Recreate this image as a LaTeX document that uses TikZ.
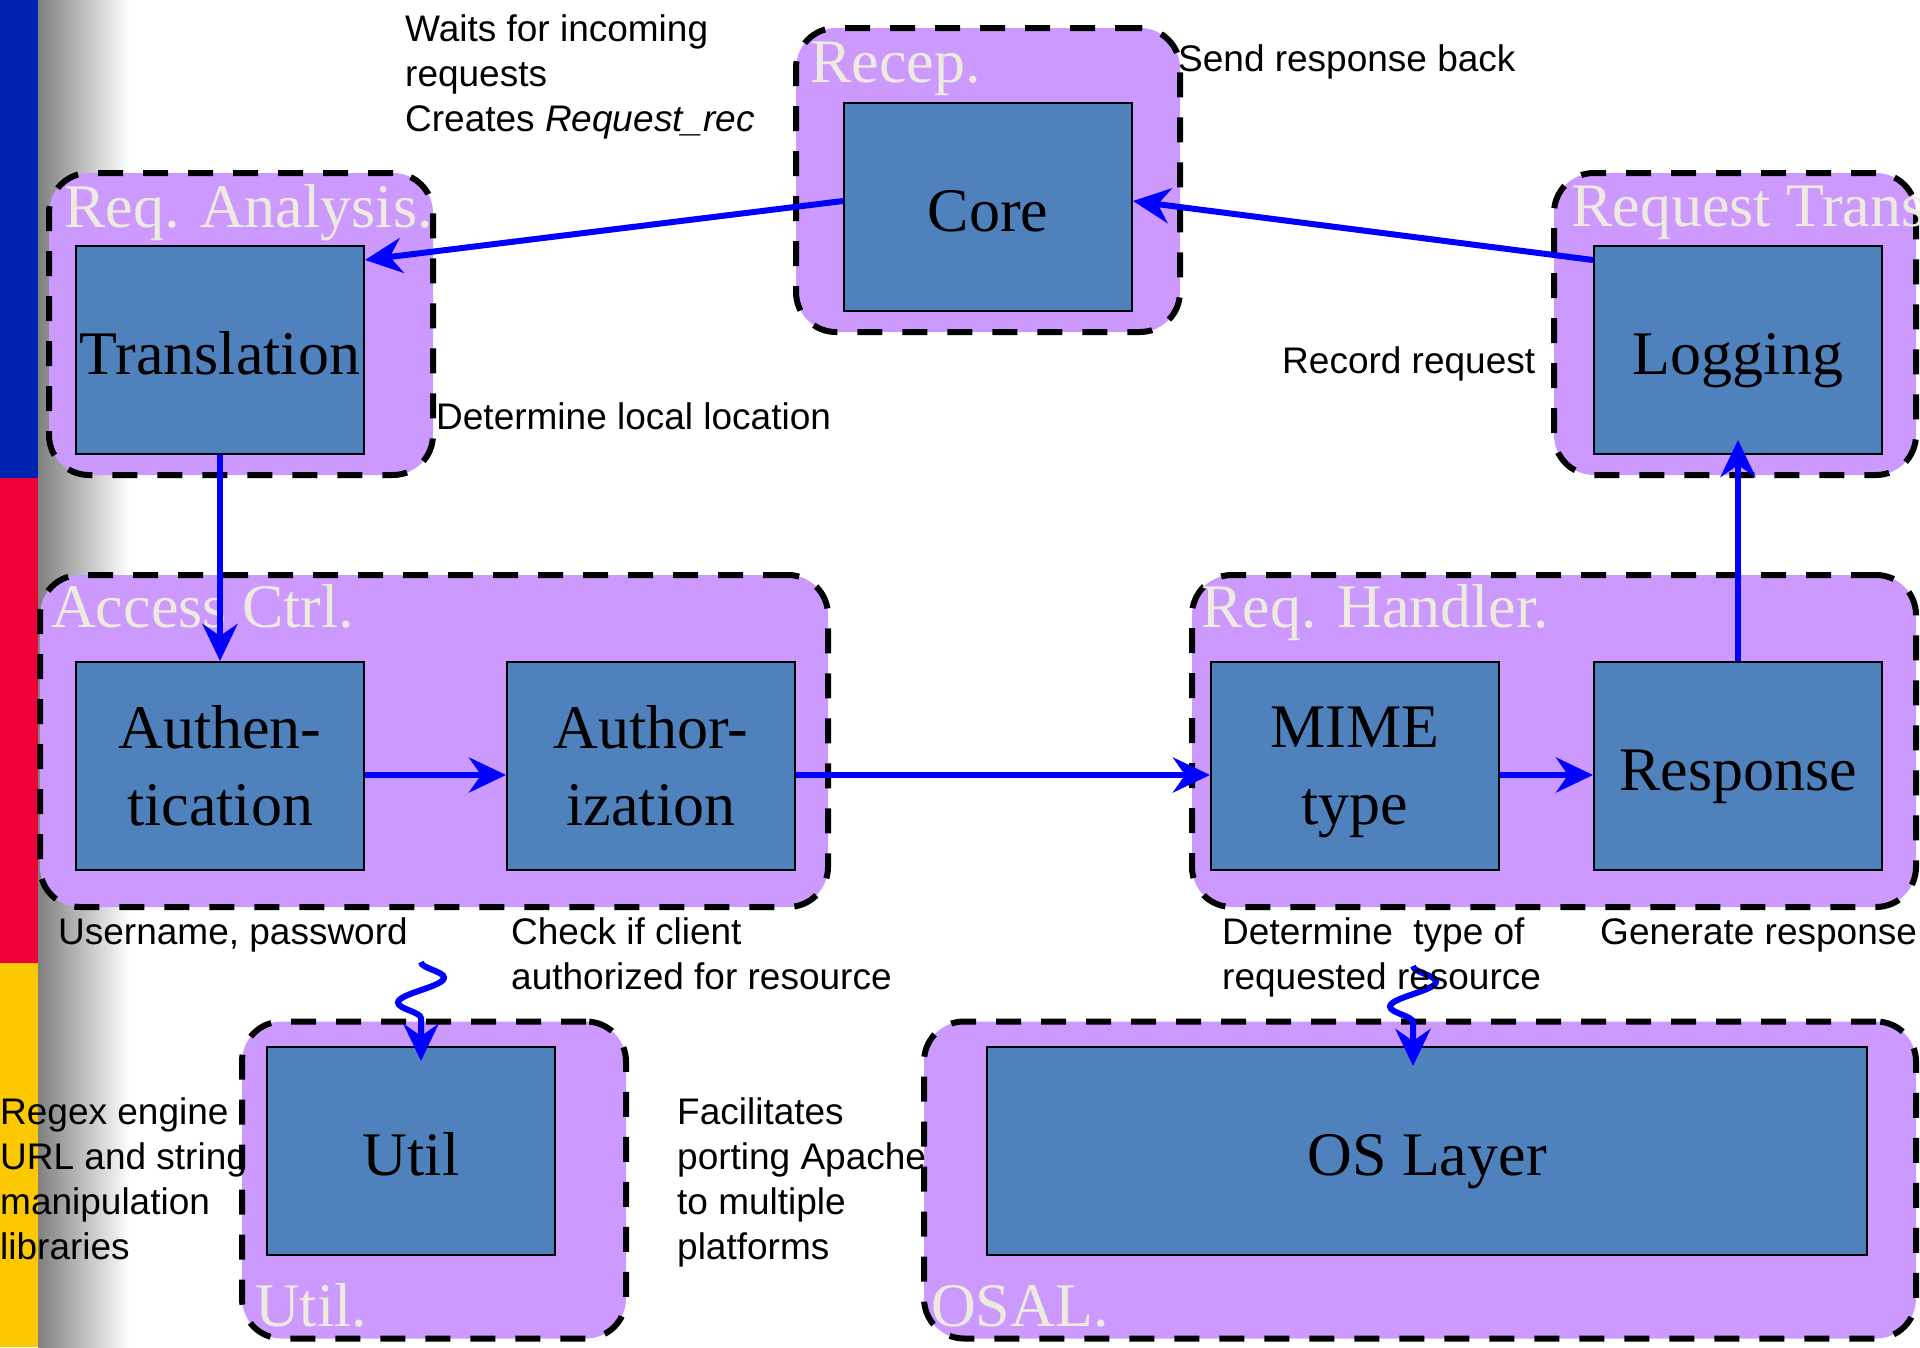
\documentclass[tikz,border=0pt]{standalone}
\usepackage{fontspec}
\setmainfont{Liberation Serif}
\newfontfamily\annfont{Liberation Sans}
\usetikzlibrary{arrows.meta,decorations.pathmorphing}
\definecolor{contfill}{RGB}{204,153,255}
\definecolor{boxfill}{RGB}{79,129,189}
\definecolor{lblcol}{RGB}{238,234,222}
\definecolor{stripblue}{RGB}{0,34,176}
\definecolor{stripred}{RGB}{240,0,56}
\definecolor{stripyellow}{RGB}{252,200,0}
\definecolor{arrblue}{RGB}{0,0,255}
\begin{document}
\begin{tikzpicture}[x=1pt,y=-1pt,
 container/.style={draw=black, fill=contfill, line width=6pt, dash pattern=on 25pt off 20pt, rounded corners=40pt, inner sep=0pt},
 compbox/.style={draw=black, fill=boxfill, line width=2pt, minimum width=288pt, minimum height=208pt, inner sep=0pt, align=center, font=\fontsize{62}{77}\selectfont},
 onebox/.style={compbox, text height=60pt, text depth=12pt},
 contlabel/.style={anchor=base west, inner sep=0pt, text=lblcol, font=\fontsize{62}{74}\selectfont},
 note/.style={anchor=base west, inner sep=0pt, align=left, font=\annfont\fontsize{37}{45}\selectfont},
 flow/.style={draw=arrblue, line width=6pt, -{Stealth[length=37pt,width=35pt,inset=12pt]}},
 wiggle/.style={flow, decorate, decoration={snake, amplitude=23pt, segment length=50pt, post length=22pt}}
]
\useasboundingbox (0,0) rectangle (1920,1347);
\path[clip] (0,0) rectangle (1920,1347);
% side strip
\fill[stripblue] (0,0) rectangle (38,478);
\fill[stripred] (0,478) rectangle (38,963);
\fill[stripyellow] (0,963) rectangle (38,1347);
\shade[left color=black!50, right color=white] (38,0) rectangle (130,1347);
% containers
\node[container, minimum width=384pt, minimum height=304pt] (recep) at (988,180) {};
\node[container, minimum width=384pt, minimum height=302pt] (reqan) at (241,324) {};
\node[container, minimum width=362pt, minimum height=302pt] (reqtr) at (1735,324) {};
\node[container, minimum width=788pt, minimum height=332pt] (acc) at (434,741) {};
\node[container, minimum width=724pt, minimum height=332pt] (hand) at (1554,741) {};
\node[container, minimum width=384pt, minimum height=317pt] (utilc) at (434,1180) {};
\node[container, minimum width=992pt, minimum height=317pt] (osal) at (1420,1180) {};
% container labels
\node[contlabel] (l1) at (810,82) {Recep.};
\node[contlabel] (l2) at (64,227) {Req. Analysis.};
\node[contlabel] (l3) at (1571,226) {Request Trans};
\node[contlabel] (l4) at (51,627) {Access Ctrl.};
\node[contlabel] (l5) at (1201,627) {Req. Handler.};
\node[contlabel] (l6) at (255,1326) {Util.};
\node[contlabel] (l7) at (931,1326) {OSAL.};
% component boxes
\node[onebox] (core) at (988,207) {Core};
\node[onebox] (trans) at (220,350) {Translation};
\node[onebox] (logg) at (1738,350) {Logging};
\node[compbox] (authn) at (220,766) {Authen-\\tication};
\node[compbox] (authz) at (651,766) {Author-\\ization};
\node[compbox, text depth=0pt] (mime) at (1355,766) {MIME\\type};
\node[onebox] (resp) at (1738,766) {Response};
\node[onebox] (util) at (411,1151) {Util};
\node[onebox, minimum width=880pt] (os) at (1427,1151) {OS Layer};
% connectors
\draw[flow] ([yshift=6pt]core.west) -- ([yshift=-15pt]trans.north east);
\draw[flow] ([yshift=-15pt]logg.north west) -- ([yshift=6pt]core.east);
\draw[flow] (trans.south) -- (authn.north);
\draw[flow] ([yshift=-9pt]authn.east) -- ([yshift=-9pt]authz.west);
\draw[flow] ([yshift=-9pt]authz.east) -- ([yshift=-9pt]mime.west);
\draw[flow] ([yshift=-9pt]mime.east) -- ([yshift=-9pt]resp.west);
\draw[flow] (resp.north) -- ([yshift=15pt]logg.south);
\coordinate (s1) at (421,962);
\coordinate (s2) at (1413,966);
\draw[wiggle] (s1) -- ([xshift=10pt,yshift=-15pt]util.north);
\draw[wiggle] (s2) -- ([xshift=-14pt,yshift=-20pt]os.north);
% annotations
\node[note] (n1) at (405,131) {Waits for incoming\\requests\\Creates \textit{Request\_rec}};
\node[note] (n2) at (1178,71) {Send response back};
\node[note] (n3) at (1282,373) {Record request};
\node[note] (n4) at (436,429) {Determine local location};
\node[note] (n5) at (58,944) {Username, password};
\node[note] (n6) at (511,989) {Check if client\\authorized for resource};
\node[note] (n7) at (1222,989) {Determine\ \ type of\\requested resource};
\node[note] (n8) at (1600,944) {Generate response};
\node[note] (n9) at (0,1259) {Regex engine\\URL and string\\manipulation\\libraries};
\node[note] (n10) at (677,1259) {Facilitates\\porting Apache\\to multiple\\platforms};
\end{tikzpicture}
\end{document}
